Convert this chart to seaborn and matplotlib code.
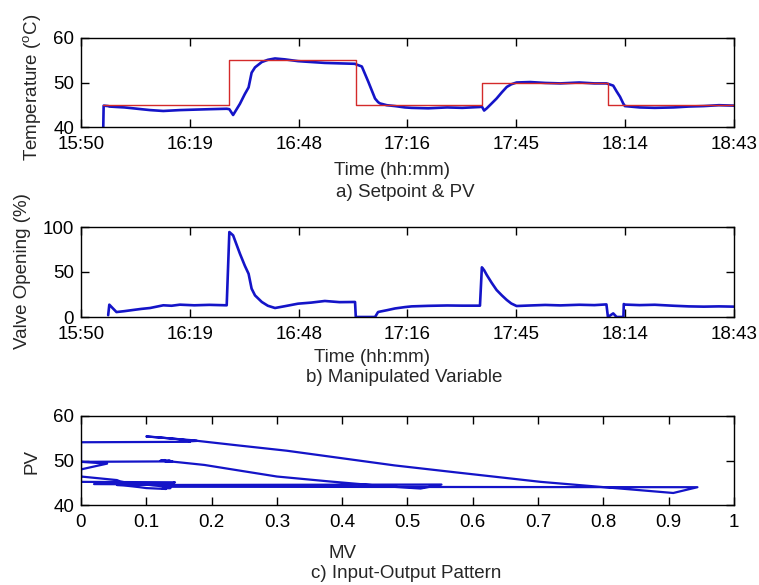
import numpy as np
import pandas as pd
import matplotlib
matplotlib.use('Agg')
import matplotlib.pyplot as plt
import seaborn as sns

# minutes after 15:50
t_min = [5.9, 6.0, 7.2, 7.5, 9.4, 11.5, 13.8, 16.0, 18.3, 21.8, 24.0, 26.2, 30.0, 34.0, 38.6,
         39.3, 40.3, 42.1, 43.4, 44.4, 45.2, 46.1, 47.9, 49.5, 51.4, 54.0, 57.5, 61.0, 64.6,
         68.5, 72.6, 72.8, 74.4, 76.1, 77.9, 78.7, 79.2, 81.0, 83.2, 85.8, 87.6, 92.0, 97.0,
         101.0, 105.7, 106.2, 106.8, 107.5, 108.8, 110.1, 111.5, 112.8, 114.0, 115.4, 119.0,
         123.0, 127.0, 132.0, 136.0, 139.2, 139.6, 141.0, 141.9, 142.8, 143.7, 143.8, 144.1,
         148.0, 152.0, 157.0, 161.0, 165.0, 169.0, 173.0]
pv = [40.0, 44.8, 44.7, 44.6, 44.5, 44.4, 44.2, 44.0, 43.8, 43.6, 43.7, 43.8, 43.9, 44.0, 44.1,
      44.0, 42.7, 45.2, 47.4, 48.9, 52.2, 53.4, 54.6, 55.1, 55.4, 55.2, 54.8, 54.6, 54.4,
      54.3, 54.2, 54.1, 53.6, 50.2, 46.4, 45.6, 45.3, 44.9, 44.7, 44.4, 44.3, 44.2, 44.4,
      44.3, 44.5, 44.6, 43.7, 44.2, 45.3, 46.4, 47.8, 49.0, 49.6, 50.0, 50.1,
      49.9, 49.8, 50.0, 49.8, 49.8, 49.7, 49.3, 48.0, 46.8, 45.2, 45.1, 44.7,
      44.4, 44.3, 44.4, 44.6, 44.7, 44.9, 44.8]
mv = [np.nan, np.nan, 2.0, 13.7, 5.5, 6.5, 7.8, 9.0, 10.0, 13.0, 12.5, 13.7, 13.0, 13.5, 13.0,
      94.4, 90.7, 70.4, 57.0, 48.0, 31.5, 24.0, 16.7, 12.5, 10.0, 12.0, 14.8, 16.0, 17.8,
      16.5, 16.7, 0.0, 0.0, 0.0, 0.0, 5.5, 6.0, 7.5, 9.5, 11.0, 11.8, 12.4, 12.8,
      12.6, 12.6, 55.2, 52.0, 46.7, 38.0, 30.0, 24.0, 18.9, 15.0, 12.2, 12.8,
      13.4, 12.9, 13.6, 13.2, 14.0, 0.0, 4.0, 0.0, 0.0, 0.0, 14.4, 13.8,
      13.2, 13.6, 12.5, 11.8, 11.5, 11.8, 11.5]

sp_t = [5.9, 39.2, 72.8, 106.2, 139.6, 173.0]
sp = [45, 55, 45, 50, 45, 45]

time_labels = ['15:50', '16:19', '16:48', '17:16', '17:45', '18:14', '18:43']
mv_labels = ['0', '0.1', '0.2', '0.3', '0.4', '0.5', '0.6', '0.7', '0.8', '0.9', '1']

df = pd.DataFrame({'t': t_min, 'pv': pv, 'mv': mv})
df['mv_frac'] = df['mv'] / 100
sp_df = pd.DataFrame({'t': sp_t, 'sp': sp})

sns.set_style('ticks')
plt.rcParams['font.family'] = ['Liberation Sans', 'DejaVu Sans']
plt.rcParams['mathtext.fontset'] = 'custom'
plt.rcParams['mathtext.rm'] = 'Liberation Sans'

blue = '#1414c8'
red = '#d42a2a'
fs = 13.5

W, H = 759, 585
fig = plt.figure(figsize=(W / 100, H / 100), dpi=100)


def box(left, top, right, bottom):
    return [left / W, 1 - bottom / H, (right - left) / W, (bottom - top) / H]


ax1 = fig.add_axes(box(81, 38, 734, 127))
ax2 = fig.add_axes(box(81, 227, 734, 317))
ax3 = fig.add_axes(box(81, 416, 734, 505))

sns.lineplot(data=df, x='t', y='pv', ax=ax1, color=blue, lw=1.9, sort=False, estimator=None)
sns.lineplot(data=sp_df, x='t', y='sp', ax=ax1, color=red, lw=1.0, sort=False, estimator=None,
             drawstyle='steps-post')
sns.lineplot(data=df, x='t', y='mv', ax=ax2, color=blue, lw=1.9, sort=False, estimator=None)
sns.lineplot(data=df, x='mv_frac', y='pv', ax=ax3, color=blue, lw=1.6, sort=False, estimator=None)

for ax in (ax1, ax2):
    ax.set_xlim(0, 173)
    ax.set_xticks(np.linspace(0, 173, 7))
    ax.set_xticklabels(time_labels)
ax1.set_ylim(40, 60)
ax1.set_yticks([40, 50, 60])
ax2.set_ylim(0, 100)
ax2.set_yticks([0, 50, 100])
ax3.set_xlim(0, 1)
ax3.set_xticks(np.linspace(0, 1, 11))
ax3.set_xticklabels(mv_labels)
ax3.set_ylim(40, 60)
ax3.set_yticks([40, 50, 60])

for ax in (ax1, ax2, ax3):
    ax.set_xlabel('')
    ax.set_ylabel('')
    for s in ax.spines.values():
        s.set_visible(True)
        s.set_linewidth(1.0)
        s.set_color('black')
    ax.tick_params(direction='in', length=6, width=1, top=True, right=True,
                   labelsize=fs, colors='black')
    ax.tick_params(axis='x', pad=6.5)
    ax.tick_params(axis='y', pad=5)

fig.text(33 / W, 1 - 87 / H, 'Temperature ($^\\mathrm{o}$C)', rotation=90, ha='center', va='center', fontsize=fs)
fig.text(23 / W, 1 - 271 / H, 'Valve Opening (%)', rotation=90, ha='center', va='center', fontsize=fs)
fig.text(32 / W, 1 - 461 / H, 'PV', rotation=90, ha='center', va='center', fontsize=fs)

fig.text(392 / W, 1 - 170 / H, 'Time (hh:mm)', ha='center', va='center', fontsize=fs)
fig.text(405 / W, 1 - 193 / H, 'a) Setpoint & PV', ha='center', va='center', fontsize=fs)
fig.text(372 / W, 1 - 357 / H, 'Time (hh:mm)', ha='center', va='center', fontsize=fs)
fig.text(404 / W, 1 - 378 / H, 'b) Manipulated Variable', ha='center', va='center', fontsize=fs)
fig.text(343 / W, 1 - 553 / H, 'MV', ha='center', va='center', fontsize=fs)
fig.text(406 / W, 1 - 573 / H, 'c) Input-Output Pattern', ha='center', va='center', fontsize=fs)

fig.savefig('out.png', dpi=100, facecolor='white')
